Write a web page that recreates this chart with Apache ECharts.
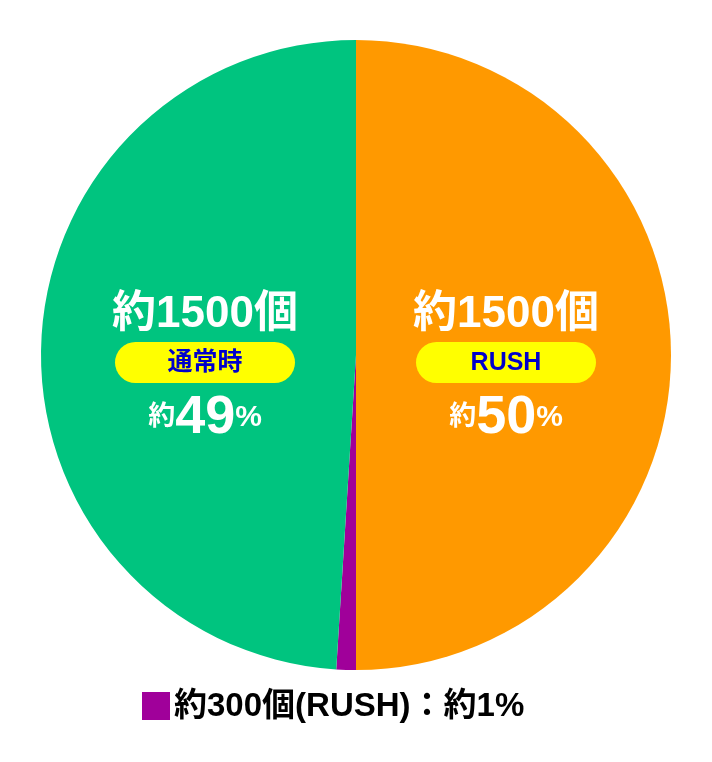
<!DOCTYPE html>
<html><head><meta charset="utf-8">
<script src="https://cdn.jsdelivr.net/npm/echarts@6/dist/echarts.min.js"></script>
<style>html,body{margin:0;padding:0;background:#fff}#c{width:712px;height:762px}</style>
</head><body><div id="c"></div>
<script>
const names = ['RUSH', 'RUSH(約300個)', '通常時'];
const values = [50, 1, 49];
const counts = ['約1500個', '約300個', '約1500個'];
const colors = ['#FF9900', '#A0009A', '#00C47F'];
const F = '"Liberation Sans", "Noto Sans CJK JP", sans-serif';
const chart = echarts.init(document.getElementById('c'));
function block(cx, count, name, pct) {
  return [
    {type:'text', z:100, x: cx, y: 315, style:{text: count, align:'center', verticalAlign:'middle', fill:'#fff', font:'bold 44px '+F}},
    {type:'rect', z:100, shape:{x:cx-90, y:342, width:180, height:41, r:20.5}, style:{fill:'#FFFF00'}},
    {type:'text', z:101, x: cx, y: 363, style:{text: name, align:'center', verticalAlign:'middle', fill:'#0000CC', font:'bold 25px '+F}},
    {type:'text', z:100, x: cx, y: 418, style:{rich:{a:{font:'bold 27px '+F, fill:'#fff'}, b:{font:'bold 54px '+F, fill:'#fff'}, c:{font:'bold 30px '+F, fill:'#fff'}}, text:'{a|約}{b|'+pct+'}{c|%}', align:'center', verticalAlign:'middle'}}
  ];
}
chart.setOption({
  animation:false,
  series:[{type:'pie', center:[356,355], radius:[0,315], startAngle:90, clockwise:true,
    label:{show:false}, labelLine:{show:false},
    data: names.map((n,i)=>({name:n, value:values[i], itemStyle:{color:colors[i]}}))}],
  graphic:[
    ...block(205, counts[2], names[2], values[2]),
    ...block(506, counts[0], names[0], values[0]),
    {type:'rect', z:100, shape:{x:142, y:692, width:28, height:28}, style:{fill:colors[1]}},
    {type:'text', z:100, x:174, y:707, style:{text:'約300個(RUSH)：約'+values[1]+'%', verticalAlign:'middle', fill:'#000', font:'bold 33px '+F}}
  ]
});
</script></body></html>
